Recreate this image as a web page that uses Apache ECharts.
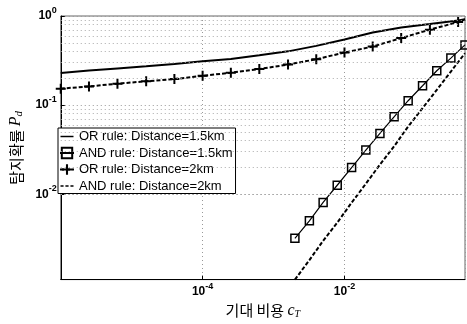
<!DOCTYPE html>
<html><head><meta charset="utf-8">
<script src="https://cdn.jsdelivr.net/npm/echarts@6/dist/echarts.min.js"></script>
<style>html,body{margin:0;padding:0;background:#fff}#c{width:467px;height:324px}</style>
</head><body><div id="c"></div>
<script>
const seriesNames = ['OR rule: Distance=1.5km', 'AND rule: Distance=1.5km', 'OR rule: Distance=2km', 'AND rule: Distance=2km'];
const xOR = [1e-6, 2.5e-6, 6.3e-6, 1.6e-5, 4e-5, 1e-4, 2.5e-4, 6.3e-4, 1.6e-3, 4e-3, 0.01, 0.025, 0.063, 0.16, 0.4, 0.5];
const yOR15 = [0.229, 0.244, 0.258, 0.273, 0.289, 0.310, 0.330, 0.362, 0.401, 0.462, 0.546, 0.654, 0.744, 0.814, 0.891, 0.92];
const yOR2 = [0.153, 0.162, 0.174, 0.185, 0.196, 0.213, 0.231, 0.254, 0.285, 0.327, 0.389, 0.454, 0.565, 0.703, 0.857, 0.915];
const xAND = [0.002, 0.0032, 0.005, 0.0079, 0.0126, 0.02, 0.0316, 0.05, 0.079, 0.126, 0.2, 0.316, 0.5];
const yAND15 = [0.0032, 0.00503, 0.00808, 0.0126, 0.0199, 0.0313, 0.0481, 0.0738, 0.112, 0.165, 0.243, 0.337, 0.474];
const yAND2 = [0.0011, 0.00182, 0.0030, 0.00479, 0.00803, 0.0131, 0.0215, 0.0344, 0.0575, 0.0923, 0.148, 0.238, 0.382];
const xMin = 1e-6, xMax = 0.5, yMin = 0.0011, yMax = 1;

function pairs(xs, ys) { return xs.map((x, i) => [x, ys[i]]); }
const minorY = [];
for (let k = -3; k <= -1; k++) for (let m = 2; m <= 9; m++) {
  const v = m * Math.pow(10, k);
  if (v > yMin && v < yMax) minorY.push({ yAxis: v });
}
const plusPath = 'path://M4,0H6V4H10V6H6V10H4V6H0V4H4Z';
const solidIcon = 'path://M0,0L0,0M14,14L14,14M0,6.2H14V7.8H0Z';
const dashIcon = 'path://M0,0L0,0M14,14L14,14M0,6.2H3.3V7.8H0ZM5.3,6.2H8.7V7.8H5.3ZM10.7,6.2H14V7.8H10.7Z';
const sup = {
  b: { fontSize: 12, fontWeight: 'bold', color: '#000', fontFamily: 'Liberation Sans' },
  s: { fontSize: 9, fontWeight: 'bold', color: '#000', fontFamily: 'Liberation Sans', padding: [0, 0, 11, 0] }
};
function expLabel(v) { const e = Math.round(Math.log10(v)); return '{b|10}{s|' + e + '}'; }

const or2Data = pairs(xOR, yOR2);
or2Data[or2Data.length - 1] = { value: or2Data[or2Data.length - 1], symbol: 'none' };

const chart = echarts.init(document.getElementById('c'), null, { renderer: 'canvas' });
chart.setOption({
  animation: false,
  backgroundColor: '#fff',
  textStyle: { fontFamily: 'Liberation Sans' },
  grid: { left: 58, right: 2, top: 16, bottom: 44, show: true, borderColor: '#666', borderWidth: 1 },
  legend: {
    orient: 'vertical', left: 58, top: 128, itemWidth: 14, itemHeight: 13, itemGap: 3.5,
    padding: [2, 3, 1, 1], backgroundColor: '#fff', borderColor: '#000', borderWidth: 1,
    selectedMode: false,
    textStyle: { fontSize: 13, color: '#000', fontFamily: 'Liberation Sans' },
    data: [
      { name: seriesNames[0], icon: solidIcon },
      { name: seriesNames[1] },
      { name: seriesNames[2] },
      { name: seriesNames[3], icon: dashIcon }
    ]
  },
  xAxis: {
    type: 'log', min: xMin, max: xMax, interval: 2,
    name: '{k|기대 비용} {c|c}{t|T}', nameLocation: 'middle', nameGap: 22,
    nameTextStyle: { rich: {
      k: { fontSize: 15, fontFamily: 'Noto Sans CJK KR', color: '#000' },
      c: { fontSize: 16, fontStyle: 'italic', fontFamily: 'Liberation Serif', color: '#000' },
      t: { fontSize: 10, fontStyle: 'italic', fontFamily: 'Liberation Serif', color: '#000', padding: [7, 0, 0, 0] }
    } },
    axisLine: { lineStyle: { color: '#000' } },
    axisTick: { inside: true, length: 4, lineStyle: { color: '#000' } },
    axisLabel: { formatter: expLabel, rich: sup, margin: 2, showMinLabel: false, showMaxLabel: false },
    splitLine: { show: true, lineStyle: { type: [1, 3], color: '#999' } }
  },
  yAxis: {
    type: 'log', min: yMin, max: yMax,
    name: '{k|탐지확률} {p|P}{d|d}', nameLocation: 'middle', nameGap: 32,
    nameTextStyle: { rich: {
      k: { fontSize: 15, fontFamily: 'Noto Sans CJK KR', color: '#000' },
      p: { fontSize: 16, fontStyle: 'italic', fontFamily: 'Liberation Serif', color: '#000' },
      d: { fontSize: 11, fontStyle: 'italic', fontFamily: 'Liberation Serif', color: '#000', padding: [6, 0, 0, 0] }
    } },
    axisLine: { show: true, lineStyle: { color: '#000' } },
    axisTick: { inside: true, length: 4, lineStyle: { color: '#000' } },
    axisLabel: { formatter: expLabel, rich: sup, margin: 4, showMinLabel: false },
    splitLine: { show: true, lineStyle: { type: [1, 3], color: '#999' } }
  },
  series: [
    {
      name: seriesNames[0], type: 'line', data: pairs(xOR, yOR15), symbol: 'none',
      lineStyle: { color: '#000', width: 2 }, itemStyle: { color: '#000' }, z: 3,
      markLine: {
        silent: true, symbol: ['none', 'none'], label: { show: false },
        lineStyle: { type: [1, 3], color: '#aaa', width: 1 }, data: minorY, animation: false
      }
    },
    {
      name: seriesNames[1], type: 'line', data: pairs(xAND, yAND15), symbol: 'rect', symbolSize: 8,
      showAllSymbol: true, lineStyle: { color: '#000', width: 1.2 },
      itemStyle: { color: 'rgba(0,0,0,0)', borderColor: '#000', borderWidth: 1.5 }, z: 4
    },
    {
      name: seriesNames[2], type: 'line', data: or2Data, symbol: plusPath, symbolSize: 10,
      showAllSymbol: true, lineStyle: { color: '#000', width: 2, type: [4, 2] },
      itemStyle: { color: '#000' }, z: 4
    },
    {
      name: seriesNames[3], type: 'line', data: pairs(xAND, yAND2), symbol: 'none',
      lineStyle: { color: '#000', width: 2, type: [4, 2] }, itemStyle: { color: '#000' }, z: 3
    }
  ]
});
</script>
</body></html>
